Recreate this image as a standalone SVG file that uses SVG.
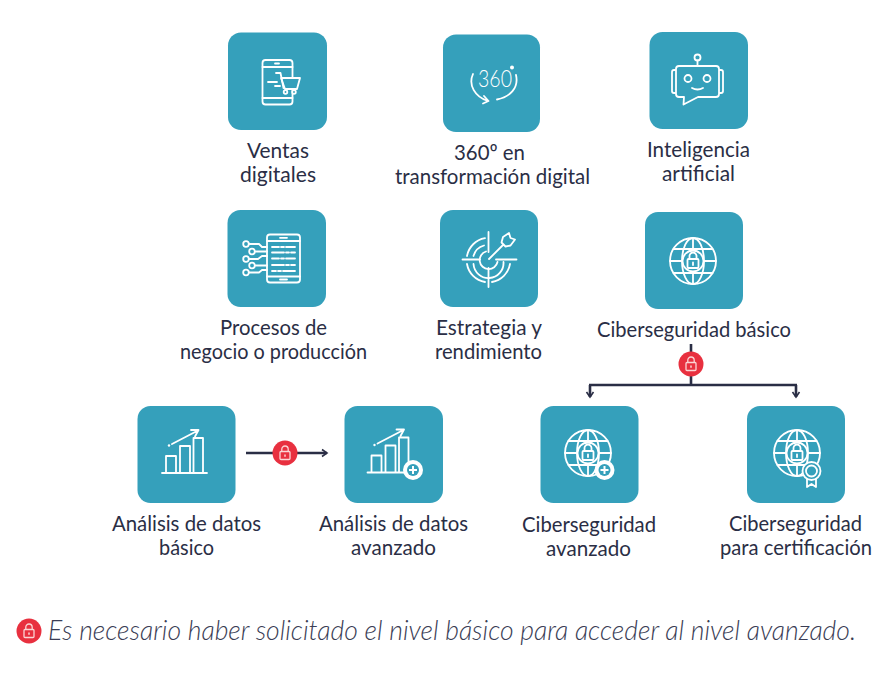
<svg xmlns="http://www.w3.org/2000/svg" width="894" height="678" viewBox="0 0 894 678">
<style>
.box{fill:#35a0bb}
.ic{fill:none;stroke:#fff;stroke-width:1.8;stroke-linecap:round;stroke-linejoin:round}
.icf{fill:#35a0bb;stroke:#fff;stroke-width:1.8;stroke-linejoin:round}
.lb{font-family:"Lato","Liberation Sans",sans-serif;font-size:21.500px;fill:#2a2e45}
.ft{font-family:"Lato","Liberation Sans",sans-serif;font-size:26.500px;font-style:italic;font-weight:300;fill:#3a3d55}
.cn{fill:none;stroke:#2a2e45;stroke-width:2.600}
.red{fill:#e8303f}
.lk{fill:none;stroke:#fbd5d5;stroke-width:1.300}
</style>
<defs>
<marker id="ah" markerUnits="userSpaceOnUse" markerWidth="10" markerHeight="10" refX="7" refY="5" orient="auto"><path d="M2 1.500L7 5L2 8.500" fill="none" stroke="#2a2e45" stroke-width="1.600"/></marker>
<g id="globe">
<circle class="ic" r="23"/>
<ellipse class="ic" rx="11" ry="23"/>
<path class="ic" d="M-23 0H-10M10 0H23M-19.500 -12H19.500M-19.500 12H19.500M0 -23V-10M0 10V23"/>
<circle class="icf" r="10.500"/>
<rect class="ic" x="-5.500" y="-2" width="11" height="9" rx="1"/>
<path class="ic" d="M-3.500 -2V-5A3.500 3.500 0 0 1 3.500 -5V-2M0 1.500V4"/>
</g>
<g id="chart">
<path class="ic" d="M162 473H207M166 473V456H176V473M180 473V446H190V473M193.500 473V438H203V473M172 444L197 431M191 430H198.500L195 436.500"/>
<circle cx="169" cy="445.500" r="1.200" fill="#fff"/>
</g>
<g id="lock">
<rect class="lk" x="-5" y="-1.500" width="10" height="8" rx="1"/>
<path class="lk" d="M-3.200 -1.500V-3.800A3.200 3.200 0 0 1 3.200 -3.800V-1.500"/>
<path d="M0 1.500V3.800" stroke="#fbd5d5" stroke-width="1.500"/>
</g>
<g id="plus">
<circle r="10" fill="#fff"/>
<circle r="6" fill="#35a0bb"/>
<path d="M-4 0H4M0 -4V4" stroke="#fff" stroke-width="2"/>
</g>
</defs>

<g id="connectors">
<path class="cn" d="M691 344V385M589 385H797M590 385V397" marker-end="url(#ah)"/>
<path class="cn" d="M796 385V397" marker-end="url(#ah)"/>
<path class="cn" d="M246 453H327" marker-end="url(#ah)"/>
</g>

<g id="badge-1"><circle class="red" cx="691" cy="364" r="12.500"/><use href="#lock" transform="translate(691 364)"/></g>
<g id="badge-2"><circle class="red" cx="285" cy="453" r="12.500"/><use href="#lock" transform="translate(285 453)"/></g>

<g id="ventas">
<rect class="box" x="228" y="32.500" width="99" height="97.500" rx="13"/>
<rect class="ic" x="262.500" y="60" width="30" height="44.500" rx="3"/>
<path class="ic" d="M262.500 67H292.500M262.500 98H292.500M275 63.500H279"/>
<path class="icf" d="M281 78H300L297 89H285Z"/>
<path class="ic" d="M276 73H280.500L283.500 88M268 82H277M275 86H280"/>
<circle class="icf" cx="285.500" cy="92" r="1.800"/><circle class="icf" cx="294" cy="92" r="1.800"/>
<text class="lb" x="247" y="158" textLength="62" lengthAdjust="spacingAndGlyphs">Ventas</text>
<text class="lb" x="240" y="182" textLength="76" lengthAdjust="spacingAndGlyphs">digitales</text>
</g>

<g id="t360">
<rect class="box" x="443" y="34.500" width="97" height="97.500" rx="13"/>
<text x="478" y="87" font-family="Lato,'Liberation Sans',sans-serif" font-size="24" font-weight="300" fill="#fff" textLength="34" lengthAdjust="spacingAndGlyphs">360</text>
<circle cx="512" cy="67.500" r="2" fill="#fff"/>
<path class="ic" d="M473 74C468 85 475 97 488 101M484 96L488.500 101L483 103.500M516 75C519 88 510 97 497 99.500"/>
<text class="lb" x="454" y="160" textLength="71" lengthAdjust="spacingAndGlyphs">360º en</text>
<text class="lb" x="395" y="184" textLength="195" lengthAdjust="spacingAndGlyphs">transformación digital</text>
</g>

<g id="ia">
<rect class="box" x="649.500" y="32" width="98.500" height="97" rx="13"/>
<circle class="ic" cx="697.500" cy="57.500" r="3"/>
<path class="ic" d="M697.500 60.500V66M679 66H716Q719 66 719 69V94Q719 97 716 97H698L683.500 104.500L684 97H679Q676 97 676 94V69Q676 66 679 66ZM676 70H674Q672 70 672 72V91Q672 93 674 93H676M719 70H721Q723 70 723 72V91Q723 93 721 93H719M692 88Q697.500 91 703 88"/>
<circle class="ic" cx="688" cy="78.500" r="3.500"/><circle class="ic" cx="707" cy="78.500" r="3.500"/>
<text class="lb" x="647" y="157" textLength="103" lengthAdjust="spacingAndGlyphs">Inteligencia</text>
<text class="lb" x="662" y="181" textLength="73" lengthAdjust="spacingAndGlyphs">artificial</text>
</g>

<g id="procesos">
<rect class="box" x="227.500" y="210" width="98.500" height="97" rx="13"/>
<rect class="ic" x="267" y="234.500" width="33" height="48" rx="3"/>
<path class="ic" d="M267 241H300M267 276.500H300M280 237.800H287M280 279.500H287M272 247H279M281 247H284M286 247H295M272 252.500H284M286 252.500H289M291 252.500H295M272 258.500H279M281 258.500H284M286 258.500H295M272 265H284M286 265H289M291 265H295M272 271H276M278 271H281M283 271H295"/>
<circle class="ic" cx="246" cy="244" r="2.800"/><circle class="ic" cx="252" cy="251.500" r="2.800"/><circle class="ic" cx="246" cy="259" r="2.800"/><circle class="ic" cx="252" cy="265.500" r="2.800"/><circle class="ic" cx="246" cy="272.500" r="2.800"/>
<path class="ic" d="M249 244H259L262 247H267M255 251.500H267M249 259H258L262 256H267M255 265.500H267M249 272.500H259L262 270H267"/>
<text class="lb" x="220" y="335" textLength="107" lengthAdjust="spacingAndGlyphs">Procesos de</text>
<text class="lb" x="180" y="359" textLength="187" lengthAdjust="spacingAndGlyphs">negocio o producción</text>
</g>

<g id="estrategia">
<rect class="box" x="440" y="210" width="98" height="97" rx="13"/>
<path class="ic" d="M462.500 259.500H480M496 259.500H516.500M488.500 232V252M488.500 268V287"/>
<path class="ic" d="M485 238.200A22 22 0 0 0 467 256M467 264A22 22 0 0 0 485 282M492 282A22 22 0 0 0 510 264"/>
<path class="ic" d="M484 245.500A15 15 0 0 0 473.500 256M473.500 264A15 15 0 0 0 503.500 262"/>
<path class="ic" d="M486 251.500A9 9 0 1 0 497.500 262"/>
<path class="ic" d="M489 259L503.500 244.500M501.500 242.500L503 237L509 233L510.500 238L515 239.500L510.500 245.500L505.500 246.500Z"/>
<text class="lb" x="436" y="335" textLength="106" lengthAdjust="spacingAndGlyphs">Estrategia y</text>
<text class="lb" x="435" y="359" textLength="107" lengthAdjust="spacingAndGlyphs">rendimiento</text>
</g>

<g id="ciber-basico">
<rect class="box" x="645" y="212" width="98" height="97" rx="13"/>
<use href="#globe" transform="translate(693 261)"/>
<text class="lb" x="597" y="337" textLength="194" lengthAdjust="spacingAndGlyphs">Ciberseguridad básico</text>
</g>

<g id="datos-basico">
<rect class="box" x="137.500" y="406" width="98" height="97" rx="13"/>
<use href="#chart"/>
<text class="lb" x="112" y="531" textLength="149" lengthAdjust="spacingAndGlyphs">Análisis de datos</text>
<text class="lb" x="159" y="555" textLength="55" lengthAdjust="spacingAndGlyphs">básico</text>
</g>

<g id="datos-avanzado">
<rect class="box" x="344.500" y="406" width="98.500" height="97" rx="13"/>
<use href="#chart" transform="translate(205.500 -0.500)"/>
<use href="#plus" transform="translate(413 470)"/>
<text class="lb" x="319" y="531" textLength="149" lengthAdjust="spacingAndGlyphs">Análisis de datos</text>
<text class="lb" x="351" y="555" textLength="85" lengthAdjust="spacingAndGlyphs">avanzado</text>
</g>

<g id="ciber-avanzado">
<rect class="box" x="540.500" y="406" width="98" height="97" rx="13"/>
<use href="#globe" transform="translate(588 453)"/>
<use href="#plus" transform="translate(604.500 470)"/>
<text class="lb" x="522" y="532" textLength="134" lengthAdjust="spacingAndGlyphs">Ciberseguridad</text>
<text class="lb" x="546" y="556" textLength="85" lengthAdjust="spacingAndGlyphs">avanzado</text>
</g>

<g id="ciber-cert">
<rect class="box" x="747" y="406" width="98" height="97" rx="13"/>
<use href="#globe" transform="translate(797 453)"/>
<path class="icf" d="M807 477V487L811.500 484L816 487V477Z"/>
<circle class="icf" cx="811.500" cy="471" r="9"/>
<circle class="ic" cx="811.500" cy="471" r="5.500"/>
<text class="lb" x="729" y="531" textLength="133" lengthAdjust="spacingAndGlyphs">Ciberseguridad</text>
<text class="lb" x="720" y="555" textLength="152" lengthAdjust="spacingAndGlyphs">para certificación</text>
</g>

<g id="nota">
<circle class="red" cx="29" cy="631" r="12.500"/>
<use href="#lock" transform="translate(29 631)"/>
<text class="ft" x="48" y="640" textLength="808" lengthAdjust="spacingAndGlyphs">Es necesario haber solicitado el nivel básico para acceder al nivel avanzado.</text>
</g>
</svg>
